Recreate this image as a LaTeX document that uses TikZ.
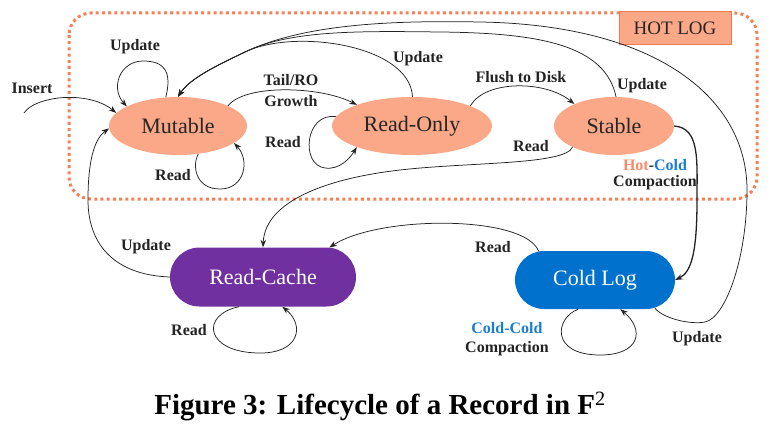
\documentclass[tikz,border=0pt]{standalone}
\usepackage{fontspec}
\setmainfont{Liberation Serif}
\usetikzlibrary{shapes.geometric,shapes.misc,arrows.meta,calc}
\definecolor{salmon}{RGB}{251,168,136}
\definecolor{hotline}{RGB}{246,128,86}
\definecolor{hotbord}{RGB}{240,120,80}
\definecolor{rcpurple}{RGB}{112,48,160}
\definecolor{clblue}{RGB}{0,114,206}
\definecolor{hottext}{RGB}{248,138,104}
\definecolor{coldtext}{RGB}{25,125,210}
\definecolor{linec}{RGB}{35,35,35}
\definecolor{labc}{RGB}{35,35,35}
\begin{document}
\begin{tikzpicture}[x=1pt,y=-1pt,
  arr/.style={draw=linec, line width=0.75pt, -{Stealth[length=7.5pt,width=5.5pt]}},
  lbl/.style={font=\bfseries\fontsize{16}{18}\selectfont, text=labc, inner sep=0pt},
  hotnode/.style={ellipse, fill=salmon, inner sep=0pt, minimum height=58pt, font=\fontsize{22}{24}\selectfont, text=black!85},
  coldnode/.style={rounded rectangle, inner sep=0pt, minimum height=58pt, font=\fontsize{22}{24}\selectfont, text=white}]
\useasboundingbox (0,0) rectangle (778,433);

% hot log region
\draw[hotline, line width=3pt, dash pattern=on 3pt off 3.2pt, rounded corners=22pt] (69,13) rectangle (757,199);
\node[draw=hotbord, fill=salmon, line width=1pt, minimum width=112pt, minimum height=33pt, inner sep=0pt,
      font=\fontsize{19}{21}\selectfont, text=black!85] (hotlog) at (675,28.5) {HOT LOG};

% nodes
\node[hotnode, minimum width=138pt] (mut) at (178,126) {Mutable};
\node[hotnode, minimum width=160pt] (ro) at (412,126) {Read-Only};
\node[hotnode, minimum width=120pt] (st) at (614,126) {Stable};
\node[coldnode, fill=rcpurple, minimum width=186pt, minimum height=59pt] (rc) at (263,277) {Read-Cache};
\node[coldnode, fill=clblue, minimum width=160pt] (cl) at (595,280) {Cold Log};

\coordinate (ins) at (24,113);
\coordinate (m) at (245,52);

% Insert
\draw[arr] (ins) .. controls (35,96) and (88,90) .. (mut.168);
% Mutable self loops
\draw[arr] (mut.113) .. controls (172,72) and (165,61) .. (143,61) .. controls (120,61) and (110,88) .. (mut.159);
\draw[arr] (mut.306) .. controls (192,165) and (195,189) .. (220,189) .. controls (245,189) and (250,160) .. (mut.343);
% Tail/RO Growth
\draw[arr] (mut.22) .. controls (245,84) and (320,86) .. (ro.159);
% Read-Only self loop
\draw[arr] (ro.173) .. controls (305,112) and (300,165) .. (325,168) .. controls (340,170) and (350,158) .. (ro.201);
% Flush to disk
\draw[arr] (ro.19) .. controls (485,80) and (545,80) .. (st.151);
% Updates back to Mutable
\draw[arr] (ro.89) .. controls (410,45) and (295,28) .. (m) .. controls (220,64) and (190,78) .. (mut.90);
\draw[arr] (st.86) .. controls (605,45) and (540,33) .. (440,32) .. controls (360,31) and (290,30) .. (m) .. controls (220,64) and (190,78) .. (mut.90);
\draw[arr] (cl.335) .. controls (662,318) and (690,325) .. (705,322) .. controls (725,318) and (747,260) .. (747,190)
   .. controls (747,100) and (660,25) .. (480,22) .. controls (380,20) and (300,26) .. (m) .. controls (220,64) and (190,78) .. (mut.90);
% Stable read -> Read-Cache
\draw[arr] (st.207) .. controls (565,165) and (470,162) .. (400,170) .. controls (330,178) and (265,200) .. (rc.north);
% Hot-Cold compaction
\draw[arr, line width=1.3pt] (st.east) .. controls (700,128) and (697,160) .. (697,200) .. controls (697,250) and (692,272) .. (cl.east);
% Cold Log read -> Read-Cache
\draw[arr] (cl.153) .. controls (525,215) and (380,215) .. (rc.24);
% Read-Cache update -> Mutable
\draw[arr] (rc.west) .. controls (115,275) and (88,245) .. (88,200) .. controls (88,165) and (93,140) .. (mut.182);
% Read-Cache self loop
\draw[arr] (rc.231) .. controls (200,315) and (205,352) .. (258,353) .. controls (300,354) and (305,325) .. (rc.303);
% Cold Log self loop
\draw[arr] (cl.240) .. controls (555,318) and (550,355) .. (600,355) .. controls (640,355) and (645,330) .. (cl.311);

% labels
\node[lbl] (l1) at (32,88) {Insert};
\node[lbl] (l2) at (135,47) {Update};
\node[lbl] (l3) at (173,175) {Read};
\node[lbl] (l4) at (291,80) {Tail/RO};
\node[lbl] (l5) at (291,101) {Growth};
\node[lbl] (l6) at (283,142) {Read};
\node[lbl] (l7) at (418,59) {Update};
\node[lbl] (l8) at (521,77) {Flush to Disk};
\node[lbl] (l9) at (642,86) {Update};
\node[lbl] (l10) at (531,146) {Read};
\node[lbl] (l11) at (655,165) {\textcolor{hottext}{Hot}-\textcolor{coldtext}{Cold}};
\node[lbl] (l12) at (655,183) {Compaction};
\node[lbl] (l13) at (146,247) {Update};
\node[lbl] (l14) at (189,330) {Read};
\node[lbl] (l15) at (493,247) {Read};
\node[lbl, text=coldtext] (l16) at (507,328) {Cold-Cold};
\node[lbl] (l17) at (507,349) {Compaction};
\node[lbl] (l18) at (697,339) {Update};

% caption
\node[font=\bfseries\fontsize{29}{32}\selectfont, inner sep=0pt] (cap) at (380,406) {Figure 3: Lifecycle of a Record in F\textsuperscript{\normalfont 2}};
\end{tikzpicture}
\end{document}
